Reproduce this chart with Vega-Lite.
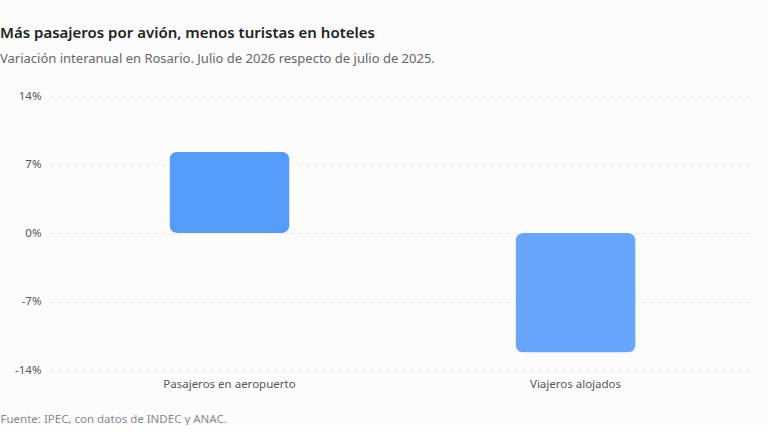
{
  "$schema": "https://vega.github.io/schema/vega-lite/v6.json",
  "width": 705,
  "height": 274,
  "padding": {"left": 0, "top": 26, "right": 13, "bottom": 0},
  "background": "#fcfcfc",
  "title": {
    "text": "Más pasajeros por avión, menos turistas en hoteles",
    "subtitle": "Variación interanual en Rosario. Julio de 2026 respecto de julio de 2025.",
    "anchor": "start",
    "frame": "bounds",
    "font": "Noto Sans",
    "fontSize": 15,
    "fontWeight": 600,
    "color": "#222222",
    "subtitleFont": "Noto Sans",
    "subtitleFontSize": 13,
    "subtitleColor": "#666666",
    "subtitlePadding": 12,
    "offset": 24
  },
  "data": {
    "values": [
      {"indicador": "Pasajeros en aeropuerto", "variacion": 8.3},
      {"indicador": "Viajeros alojados", "variacion": -12.2}
    ]
  },
  "mark": {"type": "bar", "cornerRadius": 8},
  "encoding": {
    "x": {
      "field": "indicador",
      "type": "nominal",
      "sort": null,
      "scale": {"paddingInner": 0.653, "paddingOuter": 0.345},
      "axis": {
        "title": "Fuente: IPEC, con datos de INDEC y ANAC.",
        "titleAnchor": "start",
        "titleAlign": "left",
        "titleX": -50,
        "titlePadding": 24,
        "titleFont": "Noto Sans",
        "titleFontSize": 11.5,
        "titleFontWeight": "normal",
        "titleColor": "#888888",
        "labelAngle": 0,
        "labelFont": "Noto Sans",
        "labelFontSize": 11.5,
        "labelColor": "#555555",
        "labelPadding": 8,
        "domain": false,
        "ticks": false
      }
    },
    "y": {
      "field": "variacion",
      "type": "quantitative",
      "scale": {"domain": [-14, 14], "nice": false},
      "axis": {
        "title": null,
        "values": [-14, -7, 0, 7, 14],
        "labelExpr": "datum.value + '%'",
        "labelFont": "Noto Sans",
        "labelFontSize": 11.5,
        "labelColor": "#555555",
        "labelPadding": 9,
        "domain": false,
        "ticks": false,
        "gridColor": "#e9e9e9",
        "gridDash": [4, 4]
      }
    },
    "color": {
      "field": "indicador",
      "type": "nominal",
      "scale": {"range": ["#559cfa", "#67a6fa"]},
      "legend": null
    }
  },
  "config": {"view": {"stroke": null}}
}
